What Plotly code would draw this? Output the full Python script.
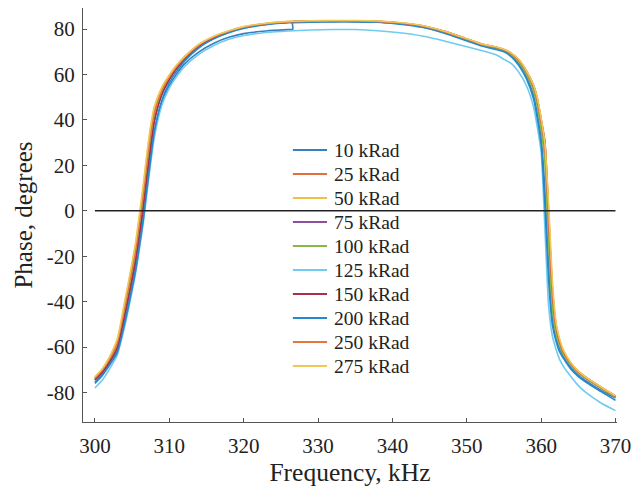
import plotly.graph_objects as go

# Frequency grid (kHz)
freq = [300, 301, 302, 303, 304, 305, 305.5, 306, 306.5, 307, 307.5, 308,
        309, 310, 311, 312, 314, 316, 318, 320, 323, 326, 329, 332, 335,
        338, 341, 344, 347, 350, 352, 354, 355, 356, 357, 358, 359, 359.5,
        360, 360.5, 361, 361.5, 362, 362.5, 363, 364, 365, 366, 368, 370]

# 10 kRad has a small step on the plateau, so it has its own grid
freq_10 = [300, 301, 302, 303, 304, 305, 305.5, 306, 306.5, 307, 307.5, 308,
           309, 310, 311, 312, 314, 316, 318, 320, 323, 326, 326.6, 326.6, 329, 332, 335,
           338, 341, 344, 347, 350, 352, 354, 355, 356, 357, 358, 359, 359.5,
           360, 360.5, 361, 361.5, 362, 362.5, 363, 364, 365, 366, 368, 370]

phase_10 = [-75.5, -72.0, -67.3, -62.0, -49.0, -33.5, -25.0, -14.5, -3.0, 10.5, 24.0, 35.0,
            47.8, 55.0, 60.3, 64.5, 70.0, 73.8, 76.4, 78.0, 79.2, 79.8, 79.9, 83.2, 83.4, 83.5, 83.4,
            83.2, 82.5, 81.2, 78.6, 75.3, 73.0, 71.5, 70.3, 68.2, 64.7, 59.2, 50.6, 42.5,
            32.3, 9.8, -23.8, -46.8, -56.2, -61.0, -64.3, -69.0, -72.3, -74.8, -79.0, -82.5]

phase_25 = [-74.0, -70.5, -65.5, -59.0, -44.0, -27.5, -18.5, -7.0, 5.0, 19.0, 31.5, 41.8,
            52.3, 58.5, 63.2, 67.0, 72.8, 76.5, 79.0, 80.8, 82.3, 83.1, 83.4, 83.5, 83.5,
            83.3, 82.6, 81.3, 78.8, 75.5, 73.2, 71.8, 70.8, 69.0, 66.0, 61.0, 54.0, 47.5,
            38.0, 27.0, -7.0, -40.0, -53.0, -58.5, -62.5, -67.5, -71.0, -73.5, -77.8, -81.8]

phase_50 = [-73.3, -69.7, -64.4, -57.0, -40.8, -23.7, -14.3, -2.3, 10.2, 24.4, 36.3, 45.2,
            54.0, 59.5, 64.0, 67.7, 73.3, 76.8, 79.2, 81.0, 82.5, 83.3, 83.6, 83.7, 83.7,
            83.5, 82.8, 81.5, 79.0, 75.7, 73.4, 72.0, 70.9, 69.2, 66.4, 61.6, 55.0, 49.1,
            40.2, 30.5, -0.3, -33.4, -50.0, -57.5, -61.8, -67.1, -70.7, -73.3, -77.6, -81.6]

phase_75 = [-74.4, -70.9, -66.1, -60.0, -45.6, -29.4, -20.6, -9.4, 2.4, 16.3, 29.1, 40.1,
            51.5, 58.0, 62.8, 66.7, 72.6, 76.3, 78.9, 80.7, 82.2, 83.0, 83.3, 83.4, 83.4,
            83.2, 82.5, 81.2, 78.7, 75.4, 73.1, 71.7, 70.7, 68.9, 65.9, 60.9, 53.8, 47.3,
            37.8, 26.5, -7.0, -38.5, -52.3, -58.7, -62.7, -67.7, -71.2, -73.7, -78.0, -82.0]

phase_100 = [-74.2, -70.6, -65.6, -58.8, -43.8, -27.2, -18.2, -6.6, 5.4, 19.3, 31.7, 41.9,
             52.3, 58.5, 63.2, 67.0, 72.8, 76.4, 78.9, 80.7, 82.2, 83.0, 83.3, 83.4, 83.4,
             83.2, 82.4, 81.0, 78.4, 75.1, 72.9, 71.5, 70.6, 68.7, 65.5, 60.3, 52.8, 45.8,
             35.5, 21.5, -13.5, -43.0, -54.0, -59.5, -63.2, -68.0, -71.4, -73.8, -78.1, -82.1]

phase_125 = [-78.0, -74.5, -69.5, -63.5, -51.0, -35.5, -27.0, -16.5, -5.5, 8.0, 21.0, 32.5,
             46.5, 54.0, 59.2, 63.3, 69.0, 72.8, 75.5, 77.2, 78.5, 79.2, 79.6, 79.8, 79.8,
             79.3, 78.4, 77.0, 74.8, 72.2, 70.6, 68.6, 66.7, 64.8, 61.0, 55.3, 45.5, 36.5,
             26.0, -7.5, -41.5, -55.0, -61.0, -65.5, -68.5, -73.0, -77.0, -80.0, -84.5, -88.0]

phase_150 = [-74.5, -71.1, -66.4, -60.5, -46.4, -30.3, -21.7, -10.5, 1.1, 15.0, 27.9, 39.3,
             51.1, 57.8, 62.6, 66.5, 72.5, 76.3, 78.9, 80.7, 82.3, 83.1, 83.4, 83.5, 83.5,
             83.3, 82.7, 81.5, 79.0, 75.7, 73.4, 72.0, 71.0, 69.3, 66.5, 61.7, 55.1, 49.2,
             40.3, 30.6, -0.5, -33.5, -50.2, -57.6, -61.9, -67.1, -70.7, -73.3, -77.6, -81.6]

phase_200 = [-76.0, -72.5, -67.8, -62.5, -49.6, -34.2, -25.8, -15.2, -4.1, 9.6, 23.0, 35.0,
             48.7, 56.3, 61.5, 65.7, 71.8, 75.7, 78.4, 80.3, 81.9, 82.8, 83.1, 83.2, 83.2,
             83.0, 82.2, 80.8, 78.2, 74.8, 72.6, 71.0, 70.0, 67.8, 64.0, 58.3, 49.0, 40.3,
             29.2, 2.8, -30.5, -50.0, -57.5, -62.3, -65.0, -69.8, -73.0, -75.4, -79.5, -83.5]

phase_250 = [-73.6, -70.1, -64.9, -58.0, -42.4, -25.6, -16.4, -4.6, 7.6, 21.7, 33.9, 43.5,
             53.1, 59.0, 63.6, 67.3, 73.0, 76.6, 79.1, 80.9, 82.4, 83.2, 83.5, 83.6, 83.6,
             83.4, 82.7, 81.4, 78.9, 75.6, 73.3, 71.9, 70.9, 69.1, 66.2, 61.3, 54.5, 48.3,
             39.1, 28.3, -3.6, -35.7, -51.0, -58.0, -62.2, -67.3, -70.9, -73.4, -77.7, -81.7]

phase_275 = [-73.1, -69.5, -64.1, -56.5, -40.0, -22.7, -13.2, -1.1, 11.5, 25.5, 37.5, 46.0,
             54.5, 59.8, 64.3, 67.8, 73.4, 76.9, 79.3, 81.1, 82.6, 83.4, 83.7, 83.8, 83.8,
             83.6, 82.9, 81.6, 79.1, 75.8, 73.5, 72.1, 71.1, 69.4, 66.6, 61.9, 55.2, 49.6,
             40.9, 29.7, 3.3, -30.0, -49.1, -56.5, -61.3, -66.9, -70.6, -73.2, -77.5, -81.5]

labels = ["10 kRad", "25 kRad", "50 kRad", "75 kRad", "100 kRad",
          "125 kRad", "150 kRad", "200 kRad", "250 kRad", "275 kRad"]
series = [phase_10, phase_25, phase_50, phase_75, phase_100,
          phase_125, phase_150, phase_200, phase_250, phase_275]
xs = [freq_10] + [freq] * 9
colors = ["#3a7fbd", "#e0703f", "#efc048", "#8e4fa0", "#86b94a",
          "#6fcbef", "#a8304a", "#2688cf", "#e4773f", "#f0c858"]

zero_x = [300, 370]
zero_y = [0, 0]

x_ticks = [300, 310, 320, 330, 340, 350, 360, 370]
y_ticks = [-80, -60, -40, -20, 0, 20, 40, 60, 80]
y_ticktext = ["-80", "-60", "-40", "-20", "0", "20", "40", "60", "80"]

FONT = "Liberation Serif"

fig = go.Figure()
for x, y, name, c in zip(xs, series, labels, colors):
    fig.add_trace(go.Scatter(x=x, y=y, mode="lines", name=name, showlegend=False,
                             line=dict(color=c, width=1.6, shape="spline", smoothing=0.6)))

fig.add_trace(go.Scatter(x=zero_x, y=zero_y, mode="lines", showlegend=False,
                         line=dict(color="#222222", width=1.5), hoverinfo="skip"))

# Legend drawn as line samples + text (paper coordinates), no frame
LEG_X0, LEG_X1, LEG_TX = 0.393, 0.457, 0.467
LEG_TOP, LEG_STEP = 0.657, 0.058
shapes = []
annotations = []
for i, (name, c) in enumerate(zip(labels, colors)):
    yy = LEG_TOP - i * LEG_STEP
    shapes.append(dict(type="line", xref="paper", yref="paper",
                       x0=LEG_X0, x1=LEG_X1, y0=yy, y1=yy,
                       line=dict(color=c, width=2)))
    annotations.append(dict(xref="paper", yref="paper", x=LEG_TX, y=yy,
                            xanchor="left", yanchor="middle", showarrow=False,
                            text=name, font=dict(family=FONT, size=19.5, color="#222222")))

axis_common = dict(showline=True, linecolor="#555555", linewidth=1.2,
                   ticks="inside", ticklen=4, tickcolor="#555555", tickwidth=1.2,
                   showgrid=False, zeroline=False, mirror=False,
                   tickfont=dict(family=FONT, size=21, color="#222222"))

# The page body has an 8px margin, so the figure is sized/placed to compensate
fig.update_layout(
    width=633, height=481,
    margin=dict(l=75, r=24, t=0, b=67),
    paper_bgcolor="white", plot_bgcolor="white",
    font=dict(family=FONT, color="#222222"),
    xaxis=dict(range=[298.4, 370.2], tickvals=x_ticks, ticklabelstandoff=5,
               title=dict(text="Frequency, kHz", font=dict(family=FONT, size=25.5), standoff=1),
               **axis_common),
    yaxis=dict(range=[-93, 89.3], tickvals=y_ticks, ticktext=y_ticktext, ticklabelstandoff=3,
               title=dict(text="Phase, degrees", font=dict(family=FONT, size=25), standoff=6),
               **axis_common),
    shapes=shapes,
    annotations=annotations,
    showlegend=False,
)

fig.write_html("out.html")
